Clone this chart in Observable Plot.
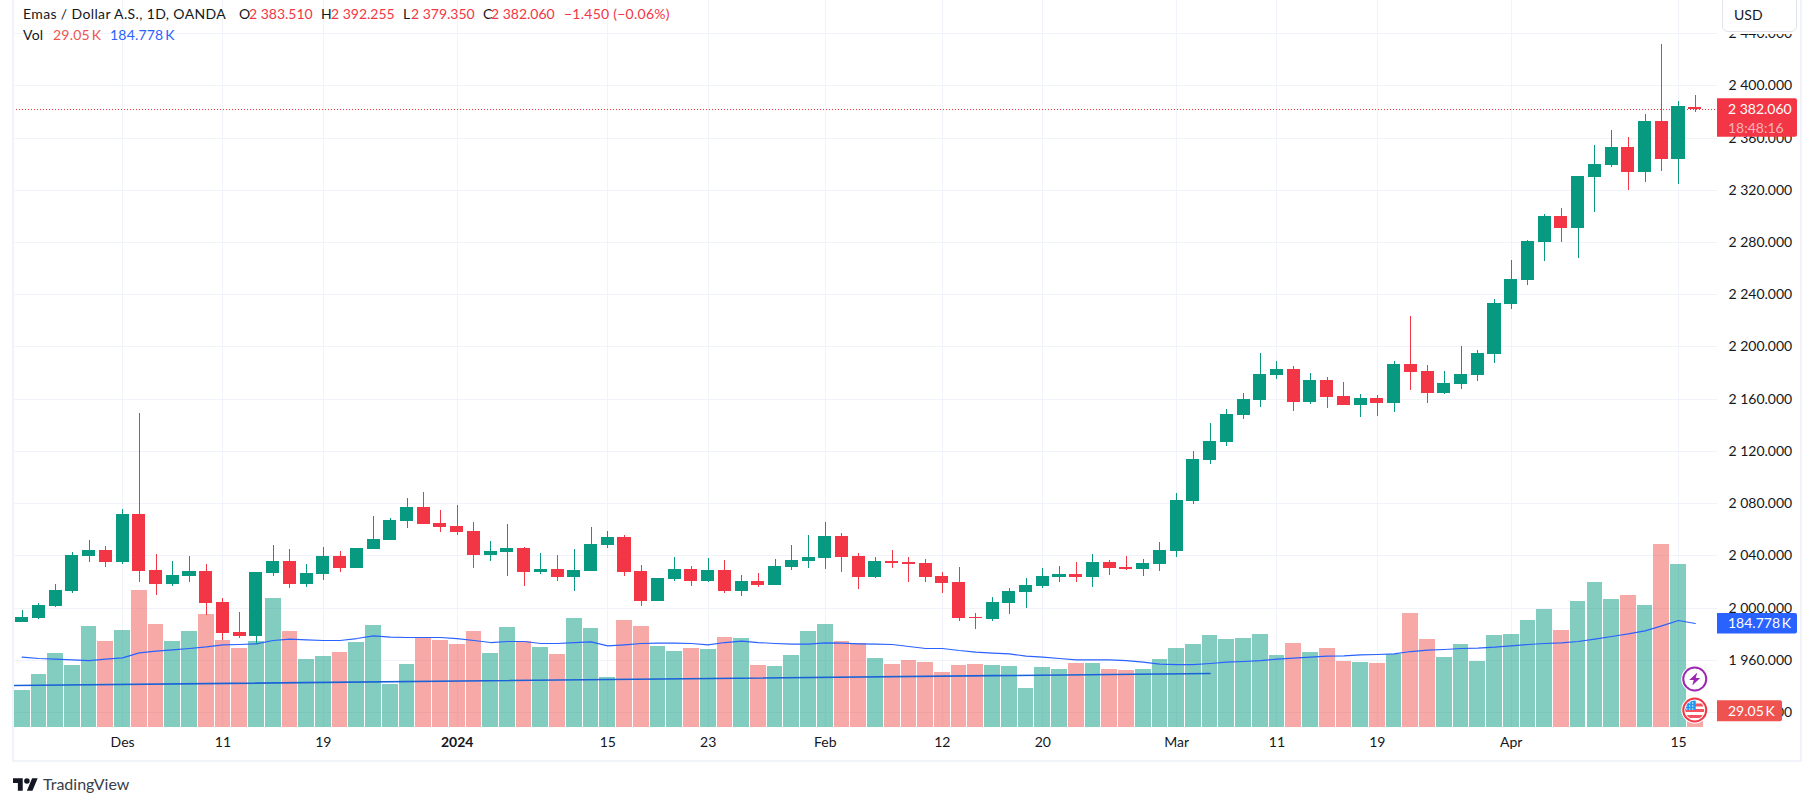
<!DOCTYPE html>
<html><head><meta charset="utf-8">
<script src="https://cdn.jsdelivr.net/npm/d3@7"></script>
<script src="https://cdn.jsdelivr.net/npm/@observablehq/plot@0.6"></script>
<style>
html,body{margin:0;padding:0;background:#fff;overflow:hidden;width:1815px;height:806px}
#root{position:relative;width:1815px;height:806px;font-family:Lato,"Noto Sans",sans-serif;font-size:14px;color:#131722}
#root>svg{position:absolute;left:0;top:0}
.t{position:absolute;white-space:pre;line-height:18px}
.red{color:#f23645}.vred{color:#ef5350}.blue{color:#2962ff}
#usd{position:absolute;left:1722px;top:-4px;width:73px;height:34px;background:#fff;border:1px solid #e0e3eb;border-radius:6px}
#usd span{position:absolute;left:11px;top:9px}
#side{position:absolute;left:1800px;top:0;width:2px;height:762px;background:#f0f3fa}
#leftb{position:absolute;left:12px;top:0;width:2px;height:762px;background:#f0f3fa}
#botb{position:absolute;left:12px;top:760px;width:1790px;height:2px;background:#f0f3fa}
#usdgap{position:absolute;left:1718px;top:0;width:82px;height:34px;background:#fff}
</style></head><body><div id="root"></div>
<script>
const opens=[1989,1992,2001.2,2012.7,2039.5,2044.1,2034.9,2071.7,2028.8,2018,2024.2,2028,2004.3,1981.3,1978.2,2026.5,2035.7,2018,2025.7,2039.5,2030.3,2044.9,2051.8,2066.4,2077.1,2064.8,2062.5,2058.7,2040.3,2042.6,2045.7,2027.3,2029.6,2023.5,2028.1,2048,2054.1,2028.1,2005.1,2022,2029.6,2020.4,2028.9,2012.8,2020.4,2017.4,2031.1,2035.7,2038,2054.9,2039.6,2023.5,2035.7,2035,2034.2,2024.3,2019.7,1992.9,1991.3,2003.6,2012,2016.6,2023.5,2025.8,2023.5,2035,2031.1,2029.6,2033.4,2043.4,2081.7,2113.1,2126.9,2147.5,2159,2178.2,2182.8,2157.5,2174.3,2162.1,2155.2,2160.6,2156.7,2186.6,2181.2,2164.4,2171.3,2178.2,2194.2,2232.5,2250.9,2280,2300,2290.8,2329.8,2339,2352.8,2333.6,2372.7,2343.6,2383.51];
const highs=[1998.2,2003.5,2018,2042.6,2051.8,2047.2,2075.5,2149,2041,2035.7,2039.5,2033.4,2007.4,1996.6,2027.3,2047.9,2044.9,2033.4,2046.4,2043.4,2045.6,2070.2,2068.6,2084,2088.6,2074.8,2078.6,2065.6,2051,2064.1,2046.5,2041.9,2040.3,2044.9,2061.8,2058.7,2055.7,2032.7,2022.7,2038.8,2031.9,2038,2036.5,2025,2026.6,2037.3,2048,2055.7,2065.6,2057.2,2041.9,2038.8,2044.2,2038.8,2037.3,2027.3,2031.1,1995.9,2008.2,2015.1,2022.7,2030.4,2031.9,2035,2041.1,2036.5,2039.6,2037.3,2050.3,2087.8,2120,2141.4,2152.1,2164.4,2195,2188.9,2185,2179.7,2176.6,2172.8,2163.6,2162.9,2188.9,2223.4,2185.8,2181.2,2200.4,2197.3,2236.4,2266.2,2281.6,2301.5,2306,2330.6,2354.3,2365.8,2360.4,2378,2431.7,2388,2392.255];
const lows=[1989,1991.3,2000.5,2011.2,2034.9,2031.1,2033.4,2019.6,2009.6,2016.5,2019.6,1994.3,1975.2,1976.7,1972,2024.2,2015,2015.8,2021.1,2027.3,2030.3,2044.9,2051.8,2061,2064.1,2058,2055.7,2030.4,2035.7,2024.3,2016.6,2025.8,2020.4,2012.8,2028.1,2045.7,2024.3,2001.3,2005.1,2020.4,2016.6,2019.7,2011.2,2008.9,2015.8,2017.4,2028.9,2030.4,2029.6,2027.3,2014.3,2022.7,2030.4,2019.7,2019.7,2011.2,1989.8,1983.7,1989.8,1995.1,1999.8,2015.1,2019.7,2019.7,2015.8,2025,2028.9,2024.3,2028.1,2038.8,2079.4,2110,2123.8,2144.5,2153.7,2175.1,2150.6,2156,2152.9,2155.2,2146,2146.8,2149.8,2166.7,2156.7,2163.6,2167.5,2173.6,2187.4,2228.7,2247.1,2265.5,2280,2267.8,2303,2337.5,2319.9,2326,2334.4,2324.4,2379.35];
const closes=[1992.8,2002,2013.5,2040.3,2044.1,2034.9,2071.7,2028,2018,2025,2028,2003.5,1980.5,1978.2,2027.3,2035.7,2018,2026.5,2039.5,2030.3,2045.6,2052.5,2067.1,2077.1,2064.1,2061.8,2058,2040.3,2043.4,2045.7,2027.3,2029.6,2023.5,2028.9,2048.8,2054.1,2027.3,2005.1,2022.7,2029.6,2020.4,2028.9,2012.8,2020.4,2017.4,2031.9,2036.5,2038.8,2054.9,2038.8,2023.5,2035.7,2034.2,2033.4,2023.5,2018.9,1992.1,1992.1,2004.3,2012.8,2017.4,2024.3,2025.8,2023.5,2035,2030.4,2029.6,2034.2,2044.2,2082.4,2113.8,2127.6,2148.3,2159.8,2179,2182.8,2157.5,2174.3,2161.3,2155.2,2160.6,2156.7,2186.6,2180.5,2164.4,2172,2179,2195,2233.3,2251.7,2280.8,2300,2290.8,2330.6,2339.8,2352.8,2333.6,2372.7,2343.6,2384.2,2382.06];
const volumes=[65.7,94.2,131.5,110.2,179.5,152.8,172.4,243.4,183,152.8,170.6,200.8,154.6,140.4,152.8,229.2,170.6,120.8,126.2,133.3,151,181.2,76.4,111.9,158.1,154.6,147.5,170.6,131.5,177.7,152.8,142.2,129.7,193.7,175.9,88.8,190.1,179.5,143.9,135,140.4,138.6,159.9,158.1,110.2,108.4,127.9,170.6,183,152.8,149.3,122.6,111.9,119,115.5,97.7,110.2,111.9,110.2,108.4,69.3,106.6,103.1,113.7,113.7,103.1,101.3,103.1,120.8,140.4,147.5,163.5,156.4,158.1,165.3,127.9,149.3,133.3,140.4,117.3,115.5,113.7,129.7,202.6,156.4,124.4,147.5,117.3,163.5,165.3,190.1,209.7,172.4,223.9,257.6,227.4,234.5,216.8,325.2,289.6,29.05];
const volumeMA=[125,122.6,121.4,120.2,119,121.4,123.8,132.7,135.6,138,140.4,143.3,146.9,147.5,148.7,154.6,157,155.8,154.6,154.6,158.1,162.9,160.5,159.9,159.9,159.9,158.1,154.6,151,152.8,152.8,149.3,149.3,151,152.2,145.1,146.9,149.3,149.9,149.9,149.3,146.9,151,153.4,151,149.3,148.1,148.1,150.4,149.9,148.7,148.1,147.5,143.9,140.4,140.4,136.8,133.9,132.1,130.9,126.8,125,122.6,120.2,120.2,120.2,119,116.1,112.5,111.9,111.9,113.7,116.1,117.3,119,121.4,123.2,125,126.8,127.3,129.1,129.7,130.9,135,137.4,138.6,140.4,141,142.7,145.1,147.5,149.3,150.4,152.8,157,161.7,166.4,171.8,180.7,190.1,184.778];
const trendIdx=[-0.52,71];
const trendVol=[74.6,96];
const priceTicks=[1920,1960,2000,2040,2080,2120,2160,2200,2240,2280,2320,2360,2400,2440];
const timeIdx=[6,12,18,35,41,48,55,61,69,75,81,89,99];
const timeLabels=["Des","11","19","15","23","Feb","12","20","Mar","11","19","Apr","15"];
const yearIdx=[26];
const yearLabels=["2024"];
const lastClose=2382.06, lastVol=29.05, lastMA=184.778;

const UP="#089981",DOWN="#f23645",VUP="#089981",VDOWN="#ef5350",GRID="#f0f3fa",INK="#131722";
const candles=opens.map((o,i)=>({i,o,h:highs[i],l:lows[i],c:closes[i],v:volumes[i],ma:volumeMA[i],up:closes[i]>=o}));
const FONT="Lato, 'Noto Sans', sans-serif";
const fmtP=d=>d3.format(".3f")(d).replace(/^(\d)(\d{3})/,"$1 $2");
const base={width:1815,height:806,marginLeft:13,marginRight:98,marginTop:0,marginBottom:79,
  style:{background:"transparent",fontFamily:FONT,fontSize:"14px",color:INK,overflow:"visible"}};
const xOpt={domain:[-0.52,101.33],axis:null};
const yPrice={domain:[1908.5,2465.4],axis:null};
const allTimes=[...timeIdx,...yearIdx];
const timeMap=new Map([...timeIdx.map((d,k)=>[d,timeLabels[k]]),...yearIdx.map((d,k)=>[d,yearLabels[k]])]);

const gridPlot=Plot.plot({...base,x:xOpt,y:yPrice,marks:[
  Plot.ruleY(priceTicks,{stroke:GRID,strokeWidth:1,shapeRendering:"crispEdges"}),
  Plot.ruleX(allTimes,{stroke:GRID,strokeWidth:1,shapeRendering:"crispEdges"})
]});
const volPlot=Plot.plot({...base,x:xOpt,y:{domain:[0,1291.9],axis:null},marks:[
  Plot.rect(candles,{x1:d=>d.i-0.47,x2:d=>d.i+0.47,y1:0,y2:"v",
    fill:d=>d.up?VUP:VDOWN,fillOpacity:0.5,shapeRendering:"crispEdges"}),
  Plot.line(candles,{x:"i",y:"ma",stroke:"#2962ff",strokeWidth:1.2,curve:"linear"}),
  Plot.line(trendIdx.map((x,k)=>({x,y:trendVol[k]})),{x:"x",y:"y",stroke:"#1a62d8",strokeWidth:1.6})
]});
const pricePlot=Plot.plot({...base,x:xOpt,y:yPrice,marks:[
  Plot.ruleY([lastClose],{stroke:DOWN,strokeWidth:1,strokeDasharray:"1 2",shapeRendering:"crispEdges"}),
  Plot.ruleX(candles,{x:"i",y1:"l",y2:"h",stroke:d=>d.up?UP:DOWN,strokeWidth:1,shapeRendering:"crispEdges"}),
  Plot.rect(candles,{x1:d=>d.i-0.39,x2:d=>d.i+0.39,y1:"o",y2:"c",fill:d=>d.up?UP:DOWN,shapeRendering:"crispEdges"}),
  Plot.axisY({anchor:"right",ticks:priceTicks,tickFormat:fmtP,tickSize:0,tickPadding:11,label:null,color:INK,fontVariant:"normal"}),
  Plot.axisX({anchor:"bottom",ticks:timeIdx,tickFormat:d=>timeMap.get(d),tickSize:0,tickPadding:10,label:null,color:INK,fontVariant:"normal"}),
  Plot.axisX({anchor:"bottom",ticks:yearIdx,tickFormat:d=>timeMap.get(d),tickSize:0,tickPadding:10,label:null,color:INK,fontWeight:"bold",fontVariant:"normal"})
]});
const root=document.getElementById("root");
root.append(gridPlot,volPlot,pricePlot);
for(const [id] of [["leftb"],["side"],["botb"],["usdgap"]]){const d=document.createElement("div");d.id=id;root.append(d);}
const usd=document.createElement("div");usd.id="usd";usd.innerHTML="<span>USD</span>";root.append(usd);

// header text: x, y, text, colour class, letter spacing
const header=[[23,14,"Emas / Dollar A.S., 1D, OANDA","",.37],[239,14,"O","",0],[249,14,"2 383.510","red",0],[321,14,"H","",0],[331,14,"2 392.255","red",0],[403,14,"L","",0],[411,14,"2 379.350","red",0],[483,14,"C","",0],[491,14,"2 382.060","red",0],[564,14,"\u22121.450 (\u22120.06%)","red",.25],
[23,35,"Vol","",.2],[53,35,"29.05\u2009K","vred",.2],[110,35,"184.778\u2009K","blue",.2]];
for(const [x,y,s,c,ls] of header){const e=document.createElement("div");e.className="t "+c;e.style.left=x+"px";e.style.top=(y-9)+"px";e.style.letterSpacing=ls+"px";e.textContent=s;root.append(e);}

// price-scale badges, placed through the plots' scales
const yP=pricePlot.scale("y"),yV=volPlot.scale("y"),xS=pricePlot.scale("x");
const over=d3.create("svg").attr("width",1815).attr("height",806).style("font-family",FONT).style("font-size","14px");
function badge(yc,top,bottom,w,color,lines){
  over.append("path").attr("fill",color).attr("d",`M1717 ${top}H${1717+w-2}q2 0 2 2V${bottom-2}q0 2 -2 2H1717Z`);
  for(const [s,dy,op] of lines) over.append("text").attr("x",1728).attr("y",yc+dy).attr("dy","0.36em").attr("fill","#fff").attr("fill-opacity",op).text(s);
}
const yc=yP.apply(lastClose);
badge(yc,yc-10.5,yc+28,80,DOWN,[[fmtP(lastClose),0,1],["18:48:16",19,.62]]);
const ym=yV.apply(lastMA);
badge(ym,ym-10,ym+10.5,80,"#2962ff",[["184.778\u2009K",0,1]]);
const yl=yV.apply(lastVol);
badge(yl,yl-10.5,yl+10.5,65,VDOWN,[["29.05\u2009K",0,1]]);

// event icons on the last bar
const cx=xS.apply(100);
const ic1=over.append("g").attr("transform",`translate(${cx},679)`);
ic1.append("circle").attr("r",13.5).attr("fill","#fff");
ic1.append("circle").attr("r",11.5).attr("fill","#fff").attr("stroke","#9c27b0").attr("stroke-width",2);
ic1.append("path").attr("d","M2.5 -6.5L-5.5 1H-1L-2.5 6.5L5.5 -1H1Z").attr("fill","#9c27b0");
const ic2=over.append("g").attr("transform",`translate(${cx},710)`);
ic2.append("circle").attr("r",13.5).attr("fill","#fff");
ic2.append("circle").attr("r",11.5).attr("fill","#fff").attr("stroke","#f23645").attr("stroke-width",2);
over.append("clipPath").attr("id","fc").append("circle").attr("r",9.5);
const f=ic2.append("g").attr("clip-path","url(#fc)");
f.append("rect").attr("x",-10).attr("y",-6.5).attr("width",20).attr("height",3).attr("fill","#f7525f");
f.append("rect").attr("x",-10).attr("y",-1).attr("width",20).attr("height",3).attr("fill","#f7525f");
f.append("rect").attr("x",-10).attr("y",5).attr("width",20).attr("height",3).attr("fill","#f7525f");
f.append("rect").attr("x",-10).attr("y",-10).attr("width",11).attr("height",10).attr("fill","#2196f3");
for(const a of [-8,-5,-2]) for(const b of [-7,-4,-1]) f.append("circle").attr("cx",a).attr("cy",b).attr("r",.7).attr("fill","#fff");
root.append(over.node());

// logo
const logo=document.createElement("div");
logo.innerHTML=`<svg style="position:absolute;left:13px;top:778px" width="25" height="13" viewBox="0 4 36 18"><path fill="${INK}" d="M14 22H7V11H0V4h14v18zM28 22h-8l7.5-18h8L28 22z"/><circle fill="${INK}" cx="20" cy="8" r="4"/></svg><div class="t" style="left:43px;top:775px;font-size:16px;color:#3a3e4a">TradingView</div>`;
root.append(logo);
</script></body></html>
